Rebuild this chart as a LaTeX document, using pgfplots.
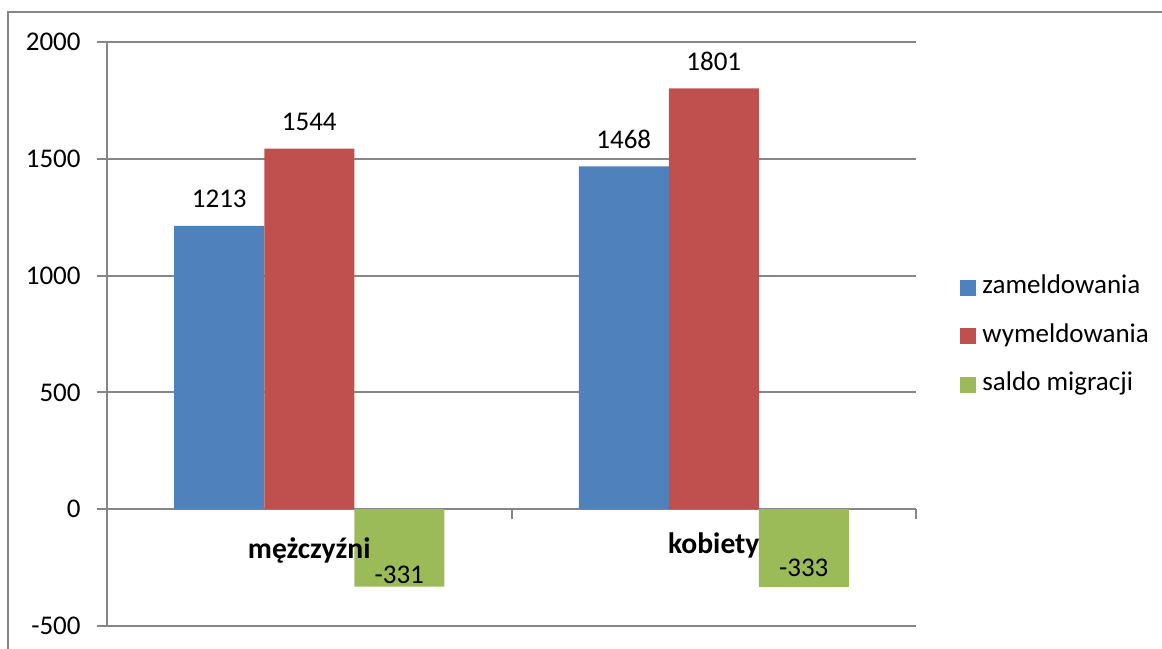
\documentclass[border=0pt]{standalone}
\usepackage{pgfplots}
\usepackage{pgfplotstable}
\pgfplotsset{compat=1.18}
\usepackage{fontspec}
\setmainfont{Carlito}
\definecolor{cblue}{HTML}{4F81BD}
\definecolor{cred}{HTML}{C0504D}
\definecolor{cgreen}{HTML}{9BBB59}
\definecolor{cgrid}{HTML}{868686}
\pgfplotsset{sqlegend/.style={legend image code/.code={\fill[##1] (0pt,-4pt) rectangle (8pt,4pt); \path (10pt,0pt);}}}
\pgfplotstableread{
x y lbl dy
0 1213 1213 9
1 1468 1468 9
}\zam
\pgfplotstableread{
x y lbl dy
0 1544 1544 9
1 1801 1801 9
}\wym
\pgfplotstableread{
x y lbl dy
0 -331 -331 1.4
1 -333 -333 5
}\sal
\begin{document}
\fontsize{13.5}{16}\selectfont
\begin{tikzpicture}[x=1pt,y=1pt]
\useasboundingbox (0,0) rectangle (581,324);
\draw[cgrid, line width=1pt] (4,-2) -- (4,318) -- (583,318);
\begin{axis}[
  at={(53.5pt,11pt)}, anchor=south west,
  scale only axis, width=404.5pt, height=292pt,
  xmin=-0.5, xmax=1.5, ymin=-500, ymax=2000,
  ybar=0pt, bar width=0.2225,
  axis y line*=left, axis x line*=middle,
  axis line style={cgrid, line width=1pt},
  ytick={-500,0,500,1000,1500,2000},
  yticklabels={-500,0,500,1000,1500,2000},
  ymajorgrids, grid style={cgrid, line width=1pt},
  tick style={cgrid, line width=1pt},
  major tick length=5pt, tick align=outside,
  xtick={-0.5,0.5,1.5}, xticklabels={},
  yticklabel style={anchor=east, xshift=-3.5pt},
  point meta=explicit symbolic,
  nodes near coords={\pgfplotspointmeta},
  visualization depends on={\thisrow{dy}\as\dy},
  every node near coord/.append style={anchor=base, yshift=\dy pt, inner sep=0pt},
  legend style={draw=none, fill=none, at={(1.047,0.611)}, anchor=north west,
    legend cell align=left, row sep=10.25pt,
    nodes={inner sep=1pt, text height=9pt, text depth=3pt}},
]
\addplot[fill=cblue, draw=none, sqlegend] table[x=x, y=y, meta=lbl] {\zam};
\addlegendentry{zameldowania}
\addplot[fill=cred, draw=none, sqlegend] table[x=x, y=y, meta=lbl] {\wym};
\addlegendentry{wymeldowania}
\addplot[fill=cgreen, draw=none, sqlegend] table[x=x, y=y, meta=lbl] {\sal};
\addlegendentry{saldo migracji}
\node[anchor=base, font=\fontsize{14.8}{17}\selectfont\bfseries, inner sep=0pt] at (axis cs:0,0) [yshift=-24.5pt] {mężczyźni};
\node[anchor=base, font=\fontsize{14.8}{17}\selectfont\bfseries, inner sep=0pt] at (axis cs:1,0) [yshift=-22pt] {kobiety};
\end{axis}
\end{tikzpicture}
\end{document}
